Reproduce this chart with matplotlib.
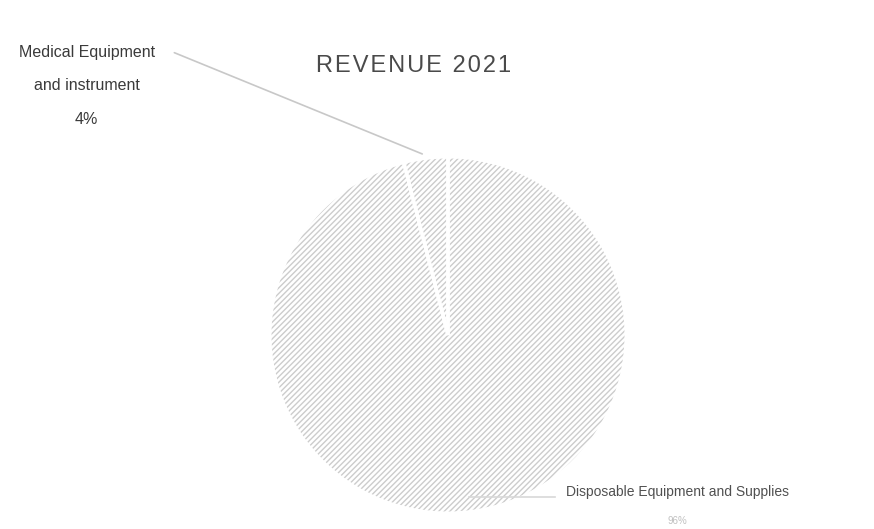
import matplotlib.pyplot as plt
import matplotlib

matplotlib.rcParams['font.family'] = ['Liberation Sans', 'DejaVu Sans']

# data
labels = ['Medical Equipment\nand instrument', 'Disposable Equipment and Supplies']
shares = [4, 96]
title = 'REVENUE 2021'

W, H = 874, 529
fig = plt.figure(figsize=(W / 100, H / 100), dpi=100)
# pie axes, centre about (448, 335) px from top-left, radius about 178 px
ax = fig.add_axes([(448 - 180) / W, (194 - 180) / H, 360 / W, 360 / H])

wedges, _ = ax.pie(shares, startangle=90, counterclock=True, radius=1,
                   colors=['white', 'white'],
                   wedgeprops=dict(hatch='//////', edgecolor='#cccccc', linewidth=0))
# white gaps between the slices
ax.pie(shares, startangle=90, counterclock=True, radius=1,
       colors=['none', 'none'],
       wedgeprops=dict(edgecolor='white', linewidth=2.5))
ax.set_xlim(-1.01, 1.01)
ax.set_ylim(-1.01, 1.01)
ax.set_aspect('equal')
ax.axis('off')


def px(x, y):
    # pixel position (from top-left) to figure fraction
    return x / W, 1 - y / H


# leader lines
ax.annotate('', xy=(-0.13, 1.01), xytext=(-1.55, 1.59),
            arrowprops=dict(arrowstyle='-', color='#c8c8c8', lw=1.2),
            annotation_clip=False)
ax.plot([0.12, 0.60], [-0.91, -0.91], color='#d8d8d8', lw=1.2, clip_on=False)

# label of small slice
top_lines = labels[0].split('\n') + [f'{shares[0]}%']
for (x, y), line in zip([(87, 52), (87, 86), (86, 120)], top_lines):
    fig.text(*px(x, y), line, ha='center', va='center', fontsize=11.5, color='#3a3a3a')

# label of big slice
fig.text(*px(677, 492), labels[1], ha='center', va='center', fontsize=10, color='#505050')
fig.text(*px(677, 521), f'{shares[1]}%', ha='center', va='center', fontsize=7, color='#c0c0c0')

# title with wide letter spacing
fig.text(*px(414, 66), '\u200a'.join(title), ha='center', va='center',
         fontsize=17, color='#4a4a4a')

fig.savefig('out.png', dpi=100)
